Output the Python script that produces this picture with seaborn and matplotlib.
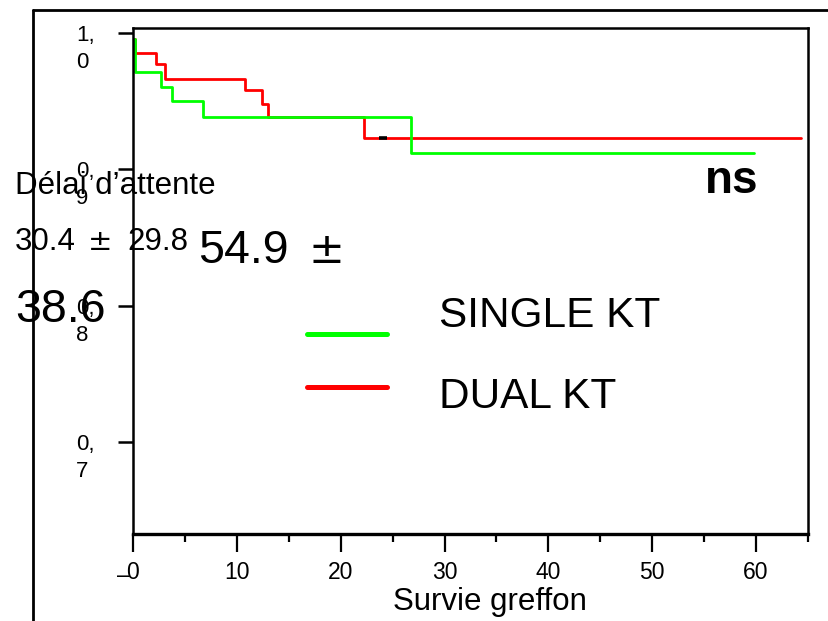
import numpy as np
import pandas as pd
import matplotlib
matplotlib.use("Agg")
import matplotlib.pyplot as plt
import matplotlib.transforms as mtransforms
from matplotlib.lines import Line2D
import seaborn as sns

# ---- data ----
single_t = [0.0, 0.19, 2.67, 3.79, 6.77, 26.78, 59.8]
single_s = [0.995, 0.971, 0.960, 0.950, 0.938, 0.912, 0.912]
dual_t = [0.0, 0.19, 2.19, 3.08, 10.79, 12.40, 13.03, 22.28, 64.35]
dual_s = [0.995, 0.985, 0.977, 0.966, 0.958, 0.9475, 0.938, 0.9226, 0.9226]
censor_t = [24.1]
censor_s = [0.9226]
groups = ["SINGLE KT", "DUAL KT"]
x_major = [0, 10, 20, 30, 40, 50, 60]
x_minor = [5, 15, 25, 35, 45, 55, 65]
x_labels = ["0", "10", "20", "30", "40", "50", "60"]
y_ticks = [0.7, 0.8, 0.9, 1.0]
y_labels = ["0,\n7", "0,\n8", "0,\n9", "1,\n0"]

df = pd.concat([
    pd.DataFrame({"t": single_t, "s": single_s, "group": groups[0]}),
    pd.DataFrame({"t": dual_t, "s": dual_s, "group": groups[1]}),
], ignore_index=True)

sns.set_style("white")
plt.rcParams["font.family"] = ["Liberation Sans", "DejaVu Sans"]
plt.rcParams["text.color"] = "black"
plt.rcParams["axes.labelcolor"] = "black"
plt.rcParams["xtick.color"] = "black"
plt.rcParams["ytick.color"] = "black"

W, H = 829, 621
fig = plt.figure(figsize=(W / 100, H / 100), dpi=100)
fx = lambda px: px / W
fy = lambda py: 1 - py / H

ax = fig.add_axes([fx(133), fy(534.3), (808 - 133) / W, (534.3 - 28) / H])

palette = {"SINGLE KT": "#00ff00", "DUAL KT": "#ff0000"}
sns.lineplot(data=df, x="t", y="s", hue="group", hue_order=["DUAL KT", "SINGLE KT"],
             palette=palette, estimator=None, sort=False, drawstyle="steps-post",
             linewidth=2.0, legend=False, ax=ax)
ax.plot(censor_t, censor_s, ls="none", marker="_", ms=6, mew=2.6, color="black")

ax.set_xlim(0, 65)
ax.set_ylim(0.6323, 1.0034)

for s in ax.spines.values():
    s.set_visible(True)
    s.set_color("black")
    s.set_linewidth(1.8)
ax.spines["bottom"].set_linewidth(2.4)

ax.set_xticks(x_major, labels=x_labels)
ax.set_xticks(x_minor, minor=True)
ax.tick_params(axis="x", which="major", direction="out", length=13, width=1.6,
               pad=6.5, labelsize=16.5, colors="black", bottom=True)
ax.tick_params(axis="x", which="minor", direction="out", length=5.4, width=1.6,
               colors="black", bottom=True)

ax.set_yticks(y_ticks, labels=y_labels)
ax.tick_params(axis="y", which="major", direction="out", length=10.8, width=1.8,
               pad=30, labelsize=16, colors="black", left=True)
off = mtransforms.ScaledTranslation(0, 8 / 100, fig.dpi_scale_trans)
for lbl in ax.get_yticklabels():
    lbl.set_horizontalalignment("left")
    lbl.set_verticalalignment("top")
    lbl.set_multialignment("left")
    lbl.set_linespacing(1.4)
    lbl.set_transform(lbl.get_transform() + off)

ax.set_xlabel("Survie greffon", fontsize=22.5, va="baseline")
ax.xaxis.set_label_coords((490 - 133) / 675, (534.3 - 610) / 506.3)
ax.set_ylabel("")

# stray dash on the 0 label
fig.text(fx(117), fy(581.7), "\u2013", fontsize=16.5, ha="left", va="baseline")

# annotations
pm = "\u00b1"
fig.text(fx(15), fy(194), "Délai d\u2019attente", fontsize=22.5, ha="left", va="baseline")
fig.text(fx(15), fy(250), "30.4", fontsize=22.5, ha="left", va="baseline")
fig.text(fx(88), fy(250), pm, fontsize=21, family="DejaVu Sans", ha="left", va="baseline")
fig.text(fx(127), fy(250), "29.8", fontsize=22.5, ha="left", va="baseline")
fig.text(fx(198), fy(263), "54.9", fontsize=33.5, ha="left", va="baseline")
fig.text(fx(309), fy(263), pm, fontsize=31, family="DejaVu Sans", ha="left", va="baseline")
fig.text(fx(15), fy(322), "38.6", fontsize=33.5, ha="left", va="baseline")
fig.text(fx(705), fy(193), "ns", fontsize=33, fontweight="bold", ha="left", va="baseline")

# legend-like items
fig.add_artist(Line2D([fx(307), fx(387)], [fy(334), fy(334)], color=palette["SINGLE KT"], lw=3.6))
fig.add_artist(Line2D([fx(307), fx(387)], [fy(387), fy(387)], color=palette["DUAL KT"], lw=3.6))
fig.text(fx(439), fy(327), groups[0], fontsize=30.5, ha="left", va="baseline")
fig.text(fx(439), fy(408), groups[1], fontsize=30.5, ha="left", va="baseline")

# outer frame (extends beyond canvas)
fig.add_artist(Line2D([fx(33.5), fx(33.5)], [fy(10), fy(700)], color="black", lw=2))
fig.add_artist(Line2D([fx(33.5), fx(900)], [fy(10), fy(10)], color="black", lw=2))

fig.savefig("out.png", dpi=100)
